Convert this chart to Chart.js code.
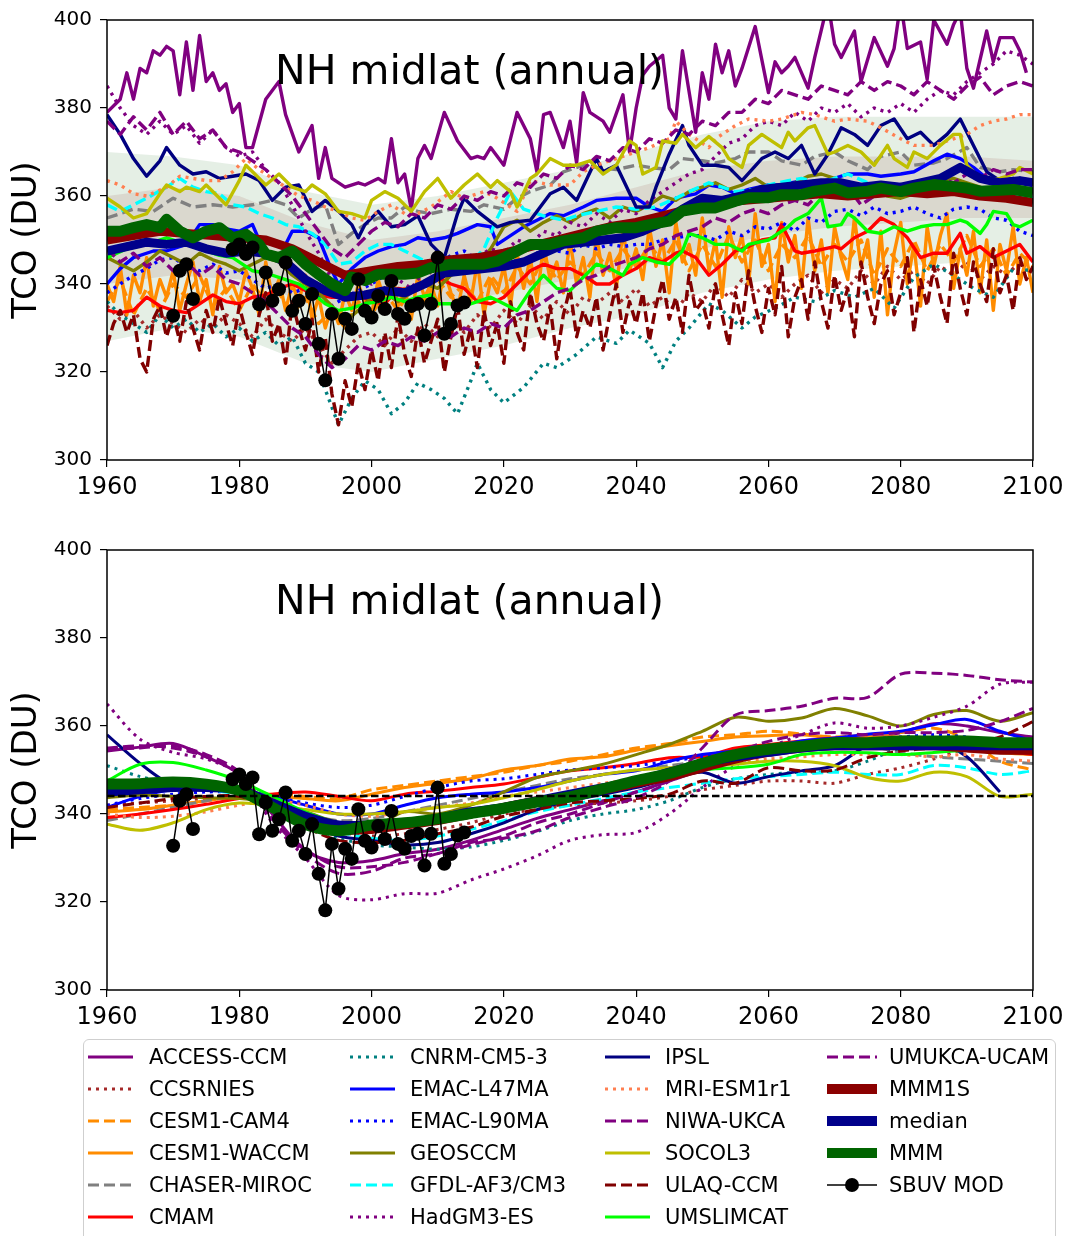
<!DOCTYPE html>
<html><head>
<meta charset="UTF-8">
<title>NH midlat (annual) - TCO</title>
<script src="https://cdn.jsdelivr.net/npm/chart.js@4.4.0/dist/chart.umd.min.js"></script>
<style>
  body, html { margin: 0; padding: 0; background: #fff; }
  #wrap { position: relative; width: 1071px; height: 1236px; overflow: hidden; font-family: 'DejaVu Sans', sans-serif; }
  canvas { position: absolute; left: 0; display: block; }
  .ptitle { position: absolute; left: 275px; font-size: 41px; line-height: 1; white-space: nowrap; color: #000; }
  #legendBox { position: absolute; left: 83px; top: 1039px; width: 973px; height: 230px; border: 1px solid #cfcfcf; border-radius: 6px; box-sizing: border-box; }
  .item { position: absolute; height: 32px; display: flex; align-items: center; font-size: 21px; color: #000; white-space: nowrap; }
  .item svg { flex: none; }
</style>
</head>
<body>
<div id="wrap">
  <canvas id="topChart" width="1071" height="510" style="top:0"></canvas>
  <div class="ptitle" style="top:50px">NH midlat (annual)</div>
  <canvas id="botChart" width="1071" height="510" style="top:530px"></canvas>
  <div class="ptitle" style="top:580px">NH midlat (annual)</div>
  <div id="legendBox"></div>
  <div id="legend"></div>
</div>
<script>
// ---- names & styles ----
const modelNames = ['ACCESS-CCM','CCSRNIES','CESM1-CAM4','CESM1-WACCM','CHASER-MIROC','CMAM',
  'CNRM-CM5-3','EMAC-L47MA','EMAC-L90MA','GEOSCCM','GFDL-AF3/CM3','HadGM3-ES',
  'IPSL','MRI-ESM1r1','NIWA-UKCA','SOCOL3','ULAQ-CCM','UMSLIMCAT','UMUKCA-UCAM'];
const modelColors = ['#800080','#a52a2a','#ff8c00','#ff8c00','#808080','#ff0000',
  '#008080','#0000ff','#0000ff','#808000','#00ffff','#800080',
  '#000080','#ff7f50','#800080','#bfbf00','#800000','#00ff00','#800080'];
const modelLines = ['solid','dotted','dashed','solid','dashed','solid',
  'dotted','solid','dotted','solid','dashed','dotted',
  'solid','dotted','dashed','solid','dashed','solid','dashed'];

// ---- top panel: raw annual TCO (DU), [year, value] ----
const yearsAnnual = Array.from({length: 141}, (_, i) => 1960 + i);

const accessT = [[1960,379],[1962,382],[1963,388],[1964,382],[1965,389],[1966,388],[1967,393],[1968,392],[1969,394],[1970,393],[1971,383],[1972,395],[1973,384],[1974,396.5],[1975,386],[1976,388],[1977,384],[1978,385.5],[1979,379],[1980,381],[1981,371],[1982,371],[1984,382],[1986,386],[1987,378.5],[1989,370],[1991,376],[1992,364],[1993,371],[1994,364],[1996,362],[1998,363],[1999,362.5],[2001,364],[2002,363],[2003,373],[2004,363],[2005,365],[2006,357],[2007,368.5],[2008,371.5],[2009,368.5],[2011,379],[2013,372.5],[2015,368.5],[2016,369],[2017,368.5],[2018,371],[2020,367],[2022,379],[2024,373],[2025,365.5],[2026,378.5],[2027,379],[2029,371],[2030,377],[2031,367.5],[2032,383.5],[2033,379],[2035,377],[2036,374.5],[2038,383],[2039,370],[2040,380],[2041,387.5],[2042,389.5],[2044,392],[2045,380],[2046,377.5],[2047,393],[2049,374.5],[2050,388],[2051,382],[2052,394.5],[2053,388],[2054,393],[2055,385],[2056,389],[2058,398.5],[2060,383.5],[2061,390.5],[2062,388],[2063,389.5],[2064,391.5],[2066,384.5],[2067,391.5],[2069,404],[2070,394.5],[2071,391.5],[2073,397.5],[2074,386],[2076,396],[2078,389.5],[2079,393.5],[2080,404],[2081,393.5],[2083,395],[2084,386.5],[2085,400],[2087,394.5],[2088,399],[2089,402],[2090,389],[2091,384.5],[2093,397.5],[2094,390.5],[2095,396],[2097,396],[2098,393],[2099,388]];
const ccsrT = [[1960,335],[1962,332],[1964,334],[1966,330],[1968,333],[1970,331],[1972,329],[1974,332],[1976,330],[1978,333],[1980,331],[1982,328],[1984,332],[1986,329],[1988,327],[1990,330],[1992,326],[1994,322],[1996,325],[1998,328],[2000,329],[2002,326],[2004,330],[2006,327],[2008,331],[2010,328],[2012,332],[2014,329],[2016,333],[2018,330],[2020,334],[2022,331],[2024,335],[2026,332],[2028,336],[2030,333],[2032,337],[2034,335.5],[2036,338],[2038,336],[2040,339],[2042,335],[2044,337],[2046,334],[2048,338],[2050,336],[2052,340],[2054,337],[2056,341],[2058,338],[2060,340],[2062,337],[2064,340],[2066,342],[2068,338],[2070,341],[2072,339],[2074,343],[2076,340],[2078,344],[2080,341],[2082,343],[2084,340],[2086,344],[2088,342],[2090,345],[2092,341],[2094,344],[2096,342],[2098,345],[2100,343]];
const cam4T = [[1960,336],[1962,341],[1964,333],[1966,339],[1968,334],[1970,340],[1972,337],[1974,342],[1976,335],[1978,339],[1980,334],[1982,340],[1984,336],[1986,338],[1988,333],[1990,337],[1992,331],[1994,334],[1996,330],[1998,336],[2000,333],[2002,338],[2004,334],[2006,339],[2008,336],[2010,341],[2012,337],[2014,340],[2016,336],[2018,342],[2020,338],[2022,344],[2024,340],[2026,346],[2028,341],[2030,345],[2032,342],[2034,347],[2036,343],[2038,348],[2040,344],[2042,349],[2044,345],[2046,350],[2048,343],[2050,349],[2052,344],[2054,351],[2056,345],[2058,350],[2060,343],[2062,349],[2064,346],[2066,351],[2068,344],[2070,349],[2072,345],[2074,350],[2076,342],[2078,348],[2080,344],[2082,350],[2084,343],[2086,349],[2088,345],[2090,351],[2092,344],[2094,348],[2096,342],[2098,347],[2100,344]];
const waccmT = [
  340,336,344,333,342,338,346,335,341,337,
  343,334,340,345,336,341,333,344,338,340,
  336,343,339,333,345,337,341,334,340,336,
  342,332,337,330,335,331,338,334,340,336,
  333,341,336,344,335,339,332,342,337,340,
  335,343,338,334,342,336,345,333,341,338,
  344,335,347,339,346,336,349,341,345,338,
  350,340,346,337,351,342,347,339,352,343,
  348,341,353,344,350,338,354,345,349,342,
  355,343,350,337,353,346,351,340,356,344,
  349,336,354,345,351,339,355,343,350,338,
  353,346,341,355,344,350,337,352,333,347,
  354,340,349,335,353,344,351,356,339,348,
  342,352,338,350,334,349,343,353,340,346,
  338];
const chaserT = [[1960,355],[1964,357],[1967,356.5],[1970,359.5],[1973,357.5],[1976,358],[1979,357.5],[1982,358],[1985,359],[1987,358],[1989,355],[1991,357],[1993,358],[1995,349],[1997,351.5],[1999,353.5],[2001,355],[2003,355],[2005,357.5],[2007,356.5],[2009,356],[2012,357],[2015,356.5],[2017,358],[2020,357],[2022,359.5],[2024,361],[2027,362.5],[2029,365.5],[2032,367],[2034,366.5],[2037,366],[2040,367],[2042,366.5],[2045,366],[2047,368.5],[2050,368],[2052,367.5],[2055,368.5],[2057,370],[2060,370],[2062,368],[2065,367],[2067,369],[2070,370],[2072,368],[2075,366],[2077,369],[2080,370],[2082,367],[2085,367.5],[2087,368.5],[2090,371],[2092,366.5],[2095,365.5],[2097,366],[2100,365.5]];
const cmamT = [[1960,334],[1962,333.5],[1964,334],[1966,337],[1968,335],[1970,334],[1972,333.5],[1974,335.5],[1976,337.5],[1978,336],[1980,335.5],[1982,337],[1984,337.5],[1986,339],[1988,340],[1990,338.5],[1992,337.5],[1994,337],[1996,337],[1998,337.5],[2000,336],[2002,335.5],[2004,339],[2006,338.5],[2008,340],[2010,341.5],[2012,340],[2014,339],[2016,336],[2018,335.5],[2020,337],[2022,340],[2024,343],[2026,344.5],[2028,343.5],[2030,343.5],[2032,342],[2034,340],[2036,340],[2038,342],[2040,343.5],[2042,346],[2044,345],[2046,347],[2047,347.5],[2049,346],[2051,342],[2053,344.5],[2055,347.5],[2057,348.5],[2059,350],[2061,350.5],[2062,353.5],[2064,347.5],[2065,347],[2067,347.5],[2070,348.5],[2071,348],[2073,350.5],[2075,352],[2077,355],[2079,353.5],[2081,350.5],[2083,346],[2085,347],[2087,347],[2089,351.5],[2090,347],[2092,348.5],[2094,346],[2096,347.5],[2098,349],[2100,345]];
const cnrmT = [[1960,336],[1962,333],[1964,331],[1966,329],[1968,333],[1970,330],[1972,332],[1974,329],[1976,331],[1978,328],[1980,330],[1982,327],[1984,329],[1986,326],[1988,328],[1990,322],[1992,320],[1994,312],[1995,308],[1997,314],[1999,318],[2001,316],[2003,310.5],[2005,313],[2007,317.5],[2009,316],[2011,314],[2013,310.5],[2015,318],[2016,322],[2018,316],[2020,313],[2023,316.5],[2026,322],[2028,321],[2031,324],[2034,328],[2037,326.5],[2039,329.5],[2042,326.5],[2044,321],[2046,327],[2048,330],[2051,335.5],[2053,334],[2056,330],[2058,332.5],[2061,334.5],[2064,337],[2067,336],[2070,338.5],[2073,337],[2076,339],[2079,334.5],[2082,341.5],[2085,344.5],[2088,342],[2091,339],[2094,337],[2097,343.5],[2100,343]];
const emac47T = [[1960,340],[1962,343.5],[1964,346],[1967,347.5],[1969,347.5],[1972,349],[1974,353.5],[1976,353.5],[1978,352.5],[1980,352],[1982,353.5],[1983,350],[1985,350],[1987,349],[1988,352],[1990,352],[1992,350.5],[1994,343],[1995,340],[1997,343.5],[1999,346],[2001,347.5],[2003,348.5],[2005,349],[2007,350.5],[2009,350],[2011,350.5],[2013,351.5],[2016,353.5],[2018,353],[2019,349],[2021,351],[2023,353],[2025,354.5],[2027,356],[2029,355.5],[2032,357.5],[2034,359],[2037,359.5],[2040,359.5],[2042,357.5],[2044,356.5],[2046,359.5],[2049,360.5],[2051,362.5],[2053,362],[2055,360.5],[2057,361.5],[2060,362.5],[2062,362.5],[2065,363.5],[2067,363],[2070,364],[2072,365],[2075,365],[2077,364.5],[2080,365],[2082,365.5],[2085,368],[2087,369.5],[2089,368.5],[2091,366.5],[2093,364],[2096,363.5],[2098,364],[2100,363.5]];
const emac90T = [[1960,338],[1962,340],[1964,342],[1966,343.5],[1968,345.5],[1970,346],[1972,344],[1974,343],[1976,344.5],[1978,342.5],[1980,343],[1982,341],[1984,339],[1986,340],[1988,338],[1990,339],[1992,337],[1994,335],[1996,337],[1998,338.5],[2000,340],[2002,342],[2004,341],[2006,343],[2008,345.5],[2010,344.5],[2012,346.5],[2014,347.5],[2016,345.5],[2018,347],[2020,346],[2022,345],[2024,346],[2026,348],[2028,347.5],[2030,347],[2032,349],[2034,348],[2036,349],[2038,348.5],[2040,349],[2042,349],[2044,350],[2046,350.5],[2048,351],[2050,351],[2052,350],[2054,352],[2056,351],[2058,353],[2060,352.5],[2062,354],[2064,352],[2066,355],[2068,354],[2070,356.5],[2072,357],[2074,355.5],[2076,357.5],[2078,356],[2080,356.5],[2082,357.5],[2084,356],[2086,355],[2088,357],[2090,357.5],[2092,357],[2094,355],[2096,354.5],[2098,352],[2100,351]];
const geosT = [[1960,346],[1962,344.5],[1964,343],[1966,345],[1968,347.5],[1970,346],[1972,344.5],[1974,347],[1976,345.5],[1978,344.5],[1980,343],[1982,344.5],[1984,346],[1986,345],[1988,342],[1990,340],[1992,338],[1994,335],[1996,331.5],[1998,334],[2000,337],[2002,338],[2004,336],[2006,338],[2008,340],[2010,339],[2012,342],[2014,343],[2016,344.5],[2018,348],[2020,353],[2022,354.5],[2024,352],[2026,354],[2028,355.5],[2030,354],[2032,356],[2034,357],[2036,355],[2038,357.5],[2040,356.5],[2042,358],[2044,360],[2046,359],[2048,361],[2050,362],[2052,363],[2054,361.5],[2056,362.5],[2058,364],[2060,362],[2062,361],[2064,363],[2066,364.5],[2068,365],[2070,364],[2072,363],[2074,361],[2076,362],[2078,360],[2080,359.5],[2082,360.5],[2084,362],[2086,363.5],[2088,364],[2090,363],[2092,362],[2094,361],[2096,362],[2098,363],[2100,363.5]];
const gfdlT = [[1960,358],[1962,356.5],[1964,358],[1966,359.5],[1969,362],[1971,364],[1973,362],[1975,361],[1977,360.5],[1979,358],[1981,357.5],[1983,356],[1985,355],[1987,353.5],[1989,353],[1991,351.5],[1993,349],[1995,344.5],[1997,345],[1999,347.5],[2001,349],[2003,349],[2005,347.5],[2007,346],[2009,344.5],[2012,345],[2015,345],[2017,348],[2019,355],[2021,361],[2023,357],[2026,355.5],[2029,354.5],[2031,355.5],[2034,356.5],[2037,357.5],[2040,357],[2043,357.5],[2046,359.5],[2048,361],[2051,363],[2053,362],[2055,361],[2058,361.5],[2060,362.5],[2063,363.5],[2065,364],[2068,363],[2070,364],[2072,365],[2075,363],[2078,362],[2080,362.5],[2083,362],[2086,361.5],[2089,361],[2092,360.5],[2095,360],[2098,360.5],[2100,359.5]];
const hadT = [[1960,385],[1962,380],[1964,376],[1966,374],[1968,377],[1970,374],[1972,376],[1974,372],[1976,375],[1978,371],[1980,369],[1982,370],[1984,366],[1986,363],[1988,358],[1990,352],[1992,347],[1994,341],[1996,339],[1998,342],[2000,340],[2002,343],[2004,341],[2006,339],[2008,343],[2010,342],[2012,345],[2014,343],[2016,346],[2018,348],[2020,347],[2022,350],[2024,349],[2026,352],[2028,351],[2030,354],[2032,353],[2034,356],[2036,354],[2038,357],[2040,356],[2042,359],[2044,361],[2046,363],[2048,365],[2050,366],[2052,369],[2054,372],[2056,373],[2058,376],[2060,377],[2062,376],[2064,379],[2066,377],[2068,380],[2070,379],[2072,381],[2074,378],[2076,380],[2078,379],[2080,381],[2082,379],[2084,382],[2086,384],[2088,383],[2090,386],[2092,388],[2094,390],[2096,393],[2098,392],[2100,390]];
const ipslT = [[1960,378.5],[1962,374],[1964,368.5],[1966,364.5],[1968,368],[1969,371],[1971,367],[1973,365],[1975,365.5],[1977,364],[1979,364.5],[1981,365],[1983,363.5],[1985,359],[1987,362],[1989,362.5],[1991,356.5],[1993,359],[1995,356.5],[1997,353.5],[1998,350.5],[1999,353.5],[2001,356.5],[2003,353],[2005,353.5],[2007,355.5],[2009,349],[2011,346],[2013,356],[2014,359.5],[2016,356.5],[2019,353],[2021,354],[2024,354.5],[2027,360.5],[2029,362],[2031,359],[2034,368.5],[2035,365.5],[2037,367],[2040,357.5],[2042,357.5],[2043,362],[2045,369.5],[2047,376],[2048,371.5],[2050,367],[2052,367],[2054,366.5],[2056,363.5],[2059,368.5],[2061,370],[2063,368.5],[2065,371.5],[2067,365],[2069,369.5],[2071,375.5],[2073,374],[2075,371.5],[2077,376],[2079,377.5],[2081,373],[2083,374.5],[2085,371.5],[2087,374],[2089,377.5],[2091,371.5],[2093,365.5],[2095,363.5],[2097,364],[2100,362.5]];
const mriT = [[1960,363.5],[1962,362.5],[1964,360.5],[1966,360],[1969,362],[1971,364.5],[1973,364],[1975,363.5],[1977,363.5],[1979,365.5],[1981,368.5],[1983,366],[1985,364],[1987,362],[1989,360],[1991,359],[1993,357.5],[1995,356.5],[1997,355],[1999,354.5],[2001,356.5],[2003,358],[2005,356],[2007,356],[2009,357.5],[2012,361],[2014,359.5],[2017,361],[2019,359.5],[2022,356.5],[2024,363.5],[2027,362.5],[2030,362.5],[2032,365.5],[2034,367],[2037,368.5],[2040,370],[2042,371],[2045,373],[2046,377],[2048,374],[2051,371],[2052,373],[2055,376],[2057,377.5],[2060,377],[2062,377.5],[2065,379],[2067,378.5],[2070,377],[2072,377.5],[2075,377],[2077,375.5],[2080,373],[2082,371.5],[2085,371.5],[2088,373],[2090,374],[2092,376],[2094,377],[2096,377.5],[2098,378.5],[2100,378.5]];
const niwaT = [[1960,377],[1962,374],[1964,378],[1966,375],[1968,379],[1970,374],[1972,377],[1974,373],[1976,375],[1978,371],[1980,370],[1982,368],[1984,366],[1986,363],[1988,360],[1990,356],[1992,352],[1994,348],[1996,346],[1998,349],[2000,352],[2002,354],[2004,353],[2006,356],[2008,355],[2010,358],[2012,357],[2014,360],[2016,359],[2018,361],[2020,360],[2022,363],[2024,362],[2026,365],[2028,364],[2030,367],[2032,366],[2034,369],[2036,368],[2038,371],[2040,370],[2042,373],[2044,372],[2046,375],[2048,374],[2050,377],[2052,376],[2054,379],[2056,379],[2058,382],[2060,381],[2062,384],[2064,383],[2066,382],[2068,385],[2070,384],[2072,383],[2074,386],[2076,384],[2078,386],[2080,385],[2082,383],[2084,386],[2086,384],[2088,382],[2090,385],[2092,387],[2094,383],[2096,385],[2098,386],[2100,385]];
const socolT = [[1960,359.5],[1962,357.5],[1964,355],[1966,356],[1968,360.5],[1969,362.5],[1971,361],[1972,362],[1974,361],[1975,362.5],[1978,358],[1980,363.5],[1981,367],[1982,365.5],[1984,362.5],[1986,365],[1988,362],[1990,361],[1991,362.5],[1993,360.5],[1995,356.5],[1997,356],[1999,355],[2000,359],[2002,361],[2004,359.5],[2006,356.5],[2008,361],[2010,364],[2012,359.5],[2014,362.5],[2016,365],[2018,362],[2019,363.5],[2021,361],[2022,357.5],[2024,364],[2025,365],[2027,368.5],[2029,367],[2031,367],[2033,368],[2035,365],[2037,367],[2039,372.5],[2040,371.5],[2041,365],[2043,366.5],[2044,372.5],[2046,372],[2047,374],[2049,371],[2051,373.5],[2053,371],[2054,368.5],[2056,366.5],[2057,371.5],[2059,374],[2060,373],[2062,371],[2063,374.5],[2064,372.5],[2066,375.5],[2067,376],[2069,369.5],[2070,370],[2072,371.5],[2074,370],[2076,367],[2078,371.5],[2079,368.5],[2081,366.5],[2082,370],[2084,368.5],[2086,371.5],[2088,374],[2089,374],[2090,367],[2092,364],[2093,363.5],[2095,364],[2097,365],[2098,366.5],[2100,365]];
const ulaqT = [
  326,331,334,329,333,323,320,332,335,328,
  333,327,336,330,325,334,329,337,331,326,
  335,329,324,333,338,327,331,322,336,330,
  325,332,320,328,315,308,318,312,322,316,
  325,318,329,321,333,324,319,330,322,327,
  332,320,328,335,324,330,321,334,326,331,
  322,336,329,325,338,331,327,335,323,333,
  339,328,334,330,337,325,333,340,329,336,
  331,338,327,335,341,332,337,329,342,334,
  336,330,340,333,326,338,331,343,335,329,
  339,333,344,328,337,341,332,345,336,330,
  342,334,339,328,345,337,331,340,343,333,
  338,346,329,341,335,344,337,331,347,339,
  333,345,340,336,348,338,342,334,346,341,
  344];
const umslimT = [[1960,346],[1963,348],[1966,349],[1969,350.5],[1972,349],[1975,347.5],[1977,346.5],[1979,346],[1982,343],[1984,342.5],[1987,341],[1989,340],[1991,338],[1993,335.5],[1995,334],[1997,334.5],[1999,335.5],[2001,336],[2003,337],[2005,336],[2007,337],[2009,337.5],[2010,335.5],[2012,335.5],[2014,335],[2016,336],[2018,337],[2020,335.5],[2022,334],[2024,338.5],[2026,342],[2028,339],[2030,338.5],[2032,341.5],[2034,344.5],[2036,343.5],[2038,342],[2039,344.5],[2041,346],[2043,345],[2045,344.5],[2047,347.5],[2048,351.5],[2050,350.5],[2052,349],[2054,349],[2056,347.5],[2057,349],[2060,350],[2062,352],[2063,353],[2064,354.5],[2066,356],[2068,359.5],[2069,353],[2071,353.5],[2072,356],[2073,355],[2075,352],[2077,351.5],[2079,353],[2081,352],[2083,353],[2085,353.5],[2087,353.5],[2089,354.5],[2090,354],[2092,351.5],[2093,353.5],[2094,356.5],[2096,356],[2097,353.5],[2098,353],[2100,354.5]];
const umukcaT = [[1960,348],[1962,345],[1964,347],[1966,344],[1968,346],[1970,343],[1972,345],[1974,342],[1976,344],[1978,341],[1980,340],[1982,338],[1984,336],[1986,333],[1988,330],[1990,328],[1992,324],[1994,321],[1996,323],[1998,326],[2000,325],[2002,327],[2004,326],[2006,328],[2008,327],[2010,329],[2012,328],[2014,330],[2016,329],[2018,331],[2020,330],[2022,333],[2024,334],[2026,336],[2028,338],[2030,339],[2032,341],[2034,342],[2036,344],[2038,345],[2040,346],[2042,348],[2044,349],[2046,351],[2048,352],[2050,353],[2052,355],[2054,354],[2056,356],[2058,357],[2060,356],[2062,358],[2064,359],[2066,358],[2068,361],[2070,360],[2072,362],[2074,358],[2076,360],[2078,362],[2080,361],[2082,363],[2084,362],[2086,364],[2088,363],[2090,365],[2092,364],[2094,366],[2096,365],[2098,366],[2100,366]];
const mmm1sT = [[1960,350],[1964,351],[1968,352],[1972,351.5],[1976,351],[1980,350.5],[1984,350],[1988,348],[1992,345],[1996,342],[2000,343],[2004,344],[2008,344.5],[2012,345.5],[2016,346],[2020,347],[2024,348.5],[2028,350],[2032,351.5],[2036,353],[2040,354],[2044,355.5],[2048,357],[2052,358],[2056,359],[2060,359.5],[2064,360],[2068,360.5],[2072,360],[2076,360.5],[2080,361],[2084,360.5],[2088,361],[2092,360],[2096,359.5],[2100,358.5]];
const medianT = [[1960,347.5],[1963,348.5],[1966,349.5],[1969,349],[1972,349.5],[1975,348],[1978,347],[1981,347.5],[1984,347],[1987,345],[1990,341],[1993,338.5],[1996,337],[1999,337.5],[2002,338.5],[2005,338],[2008,340],[2011,342.5],[2014,343],[2017,343.5],[2020,344],[2023,345],[2026,347],[2029,349],[2032,349.5],[2035,350],[2038,350.5],[2041,352],[2044,354],[2047,357],[2050,359.5],[2053,359],[2056,360],[2059,361.5],[2062,362],[2065,362.5],[2068,363],[2071,363],[2074,362],[2077,362.5],[2080,362],[2083,363],[2086,364],[2089,366.5],[2092,364],[2095,363],[2098,363.5],[2100,363]];
const mmmT = [[1960,352],[1962,352],[1964,352.8],[1966,353.5],[1968,352.8],[1969,354.7],[1971,352],[1973,350.5],[1975,352],[1977,352.8],[1979,350.5],[1981,351.3],[1983,349],[1984,346.8],[1986,346],[1988,347.5],[1990,344.5],[1992,342.2],[1994,340],[1996,338.5],[1997,341.6],[1999,340.8],[2001,342.2],[2003,342.2],[2005,342.2],[2007,342.5],[2009,343.7],[2012,344.5],[2014,344.5],[2017,344.5],[2019,345.2],[2022,347.5],[2024,349],[2027,349],[2029,349.8],[2032,350.5],[2034,352],[2037,352.8],[2040,352.8],[2042,353.5],[2045,354.3],[2047,356.6],[2050,357.3],[2052,357.3],[2055,358.8],[2057,359.6],[2060,359.6],[2062,360.3],[2065,360.3],[2067,361.1],[2070,361.8],[2072,360.7],[2075,361.1],[2077,361.8],[2080,361],[2082,361.8],[2085,362.6],[2087,362.3],[2090,361.8],[2092,361.1],[2095,361.3],[2097,361.5],[2100,360.7]];

// model spread shading (top panel)
const bandYears = [1960,1970,1980,1990,2000,2010,2020,2030,2040,2050,2060,2070,2080,2090,2100];
const outerLo = [327,330,328,322,320,323,326,330,333,338,341,343,344,345,345];
const outerHi = [370,369,367,361,358,360,363,366,370,374,377,378,378,378,378];
const innerLo = [340,342,341,336,333,335,338,341,344,348,351,353,354,355,355];
const innerHi = [360,362,360,354,350,352,355,358,362,366,368,369,369,369,368];

// ---- bottom panel: adjusted, smoothed TCO (DU) ----
const yearsB = [1960,1965,1970,1975,1980,1985,1990,1995,2000,2005,2010,2015,2020,2025,2030,2035,2040,2045,2050,2055,2060,2065,2070,2075,2080,2085,2090,2095,2100];
const accessB = [354.3,355.2,356,353,349,340,331.7,329,329.4,331,332,334,336.5,339,341,343,345,347.5,350,352,353.5,355,356,357,358.5,360.5,360,358.5,357.5];
const ccsrB = [342,342.5,343,343.5,344,342,339,336,335,335.5,336.5,338,340,341,342,342.5,343,344,345.5,346.5,347.5,347.5,347,349,350.5,352.5,355,357,355];
const cam4B = [341,341.5,342,343,344.5,344.5,344,343.5,345.5,346.5,347.5,348.5,349.5,351,352,353.5,355,356,357.5,358,358.8,358.2,357.5,358,358.5,359.5,357,352,350];
const waccmB = [340.5,341,342,343,344,344,343.5,343,344.5,346,347,348,350,351,352.5,353,354.5,355.5,356.5,357.5,357.8,358,357.2,357.5,357.5,357,355.5,354,353.5];
const chaserB = [338.5,340,341.5,343,344,342.5,340,338.5,339,340.5,342,343.5,345,346.5,348,349,350,351,352,353,354,355,355.5,355.5,354,353,352.5,352,351.5];
const cmamB = [339.2,340,341,342.2,343.5,344.5,345,344,343,344.5,345.2,346,346.8,348.3,349.8,350.5,351.5,352.8,353,355,355.8,356.6,357.3,357,356.6,356,355.1,354.3,353.5];
const cnrmB = [351,348.5,347,346,345,342,338,334.5,333,332.5,332,332.5,334,336,338.5,340,341,343,346,348,349,349.5,349.8,352,355,355.5,356,355.5,355];
const emac47B = [341.5,344,345.5,345.8,345.5,344,342,340,340,342,343.7,344.5,345,346,347.5,349,349.8,352,353.5,354.3,355.1,356.6,357.3,358.1,358.8,360.3,361.5,358.8,356.6];
const emac90B = [342,343.5,344.5,345,345,344,342.5,341.5,342,344,346,347.5,348,349,350,350.5,351,352,353,354,355,356,356.5,357,357.5,358,357.5,356,355];
const geosB = [343.7,344.3,344,343.7,343.5,342.5,340.5,338,337,340.5,340,342,345,348.3,349.8,351.3,353.5,355.8,358.8,362,361.1,361.8,364,362.3,360,362.6,363.5,361.1,363];
const gfdlB = [347,346.5,346,345.5,344.5,342.5,339,336,334.5,334,335,336.5,338.5,340.5,342,343.5,345,346,347,348,348.5,349,349.5,349,349,351,350.5,349,349.8];
const hadB = [365,357,354,352.5,349,338,330,321.5,320.5,321.9,322,325,327.5,330.5,334,335.3,335.8,340,346,351,355,358,360.7,359.5,360,362,364.5,369.5,370];
const ipslB = [358,351.5,346.5,346,345,342,338,335,334,333,333.5,335.5,338,341,343,344.5,346,348,349.5,347,348.5,349.8,351,355.5,356,356.5,353,345,null];
const mriB = [340,339.2,339.5,340.5,342,343,342,340,339.5,340.5,341.5,342.5,344,345,346,347,348,349.5,350.5,351.5,352.5,353,353.5,353.5,353.5,353,353.5,352.5,352];
const niwaB = [355,355.5,355,353,349,339,332,328,328,329,331,333,335,338,340,342.5,345,347.5,351,354,356.5,358,358.5,358,358.5,358.5,359,361,364];
const socolB = [337.7,336.3,338,341,342.5,342,341,340,340,340.5,341.5,342.2,343.7,345.5,347.5,349,350,350.5,351,351.3,352,352,351,348.3,347.5,349.5,348.5,344,344.5];
const ulaqB = [341.5,342.5,343.5,344,344,341,337,334,333.5,334,335.5,337,339.5,341,342.5,343,343.5,344.5,347.5,347,350.5,349.8,350,352.8,354.3,355,355.8,357.5,361];
const umslimB = [347.5,351.3,351.7,350,347.5,344,340.5,338,337.5,338,338.5,339.5,341,342.5,344,345.5,347,348.5,350,350.5,351.3,353.5,354,353.9,353.5,354,354.5,null,null];
const umukcaB = [354.7,355,355.5,353.5,349.5,339,331,326.5,327,330,331,333.5,334.5,336.2,339.2,341.5,343.7,347.5,355,362.5,363.5,364.5,366.3,366.5,371.8,372,371.5,370.5,370];
const mmm1sB = [345.5,346.5,347,346.5,345.5,342.5,339,336.5,336.5,337.5,338.5,340,341.5,343,344,345.5,347,348.5,350.5,352.5,354,355,355.5,355.5,355.5,355.5,355,354.5,354.5];
const medianB = [345,345.5,346,346,345.5,342.5,339.5,337.5,337.5,338,339,340.5,341.5,343,344.5,346,347.5,349.5,351.5,353,354,355,355.5,355.5,355.5,355.5,355.5,355.5,355.5];
const mmmB = [346.8,346.9,347.3,346.8,345.3,341.5,337.6,336.2,337.5,338,338.9,340.1,341.3,342.7,343.9,345.7,347.6,349.2,351.5,353.5,354.7,355.4,356.2,356.2,356.6,356.6,356.6,356.2,356.2];
const refYears = [1960, 2100];
const refLevel = [344.1, 344.1];

// ---- observations (SBUV MOD) ----
const sbuvYears = [1970,1971,1972,1973,1974,1975,1976,1977,1978,1979,1980,1981,1982,1983,1984,1985,1986,1987,1988,1989,1990,1991,1992,1993,1994,1995,1996,1997,1998,1999,2000,2001,2002,2003,2004,2005,2006,2007,2008,2009,2010,2011,2012,2013,2014];
const sbuvTCO = [332.8,343,344.5,336.6,null,null,null,null,null,347.9,349,346.8,348.3,335.4,342.6,336.2,338.8,344.9,333.9,336.2,330.9,337.7,326.4,318.1,333.2,323,332.1,329.8,341.1,333.9,332.4,337.3,334.3,340.7,333.2,332.1,335,335.5,328.3,335.5,346,328.7,330.9,335.1,335.8];

// ---- helpers ----
const FONT = 'DejaVu Sans';
const dashFor = { solid: [], dotted: [3, 5], dashed: [11, 5] };
const pairs = arr => arr.map(p => ({ x: p[0], y: p[1] }));
const onGrid = (xs, ys) => xs.map((x, i) => ({ x: x, y: ys[i] }));

function lineSet(label, points, color, style, width, order, tension) {
  return {
    label, data: points, borderColor: color, backgroundColor: color,
    borderWidth: width, borderDash: dashFor[style], pointRadius: 0,
    fill: false, tension: tension, order: order, spanGaps: false,
    borderJoinStyle: 'round', borderCapStyle: 'butt'
  };
}
function bandSets(lo, hi, color) {
  return [
    { data: onGrid(bandYears, lo), borderColor: 'rgba(0,0,0,0)', borderWidth: 1, pointRadius: 0, fill: false, order: 300 },
    { data: onGrid(bandYears, hi), borderColor: 'rgba(0,0,0,0)', borderWidth: 1, pointRadius: 0, fill: '-1', backgroundColor: color, order: 300 }
  ];
}
function sbuvSet() {
  return {
    label: 'SBUV MOD', data: onGrid(sbuvYears, sbuvTCO), borderColor: '#000', backgroundColor: '#000',
    borderWidth: 1.5, pointRadius: 7, pointBorderWidth: 0, pointBackgroundColor: '#000',
    fill: false, tension: 0, order: 0, spanGaps: false
  };
}

const framePlugin = {
  id: 'frame',
  afterDraw(chart) {
    const { ctx, chartArea: a } = chart;
    ctx.save();
    ctx.strokeStyle = '#000';
    ctx.lineWidth = 1.5;
    ctx.strokeRect(a.left, a.top, a.right - a.left, a.bottom - a.top);
    ctx.restore();
  }
};

function makeOptions() {
  const tickGrid = { display: true, drawOnChartArea: false, drawTicks: true, tickLength: 7, color: '#000', lineWidth: 1.2 };
  return {
    responsive: false, animation: false, devicePixelRatio: 1,
    layout: { padding: { left: 0, right: 38, top: 18, bottom: 0 } },
    plugins: { legend: { display: false }, tooltip: { enabled: false } },
    scales: {
      x: {
        type: 'linear', min: 1960, max: 2100,
        afterFit(s) { s.height = 50; },
        ticks: { stepSize: 20, color: '#000', padding: 6, maxRotation: 0, font: { family: FONT, size: 24 }, callback: v => String(v) },
        grid: tickGrid, border: { display: false }
      },
      y: {
        min: 300, max: 400,
        afterFit(s) { s.width = 107; },
        ticks: { stepSize: 20, color: '#000', padding: 8, font: { family: FONT, size: 20 } },
        grid: tickGrid, border: { display: false },
        title: { display: true, text: 'TCO (DU)', color: '#000', font: { family: FONT, size: 34 }, padding: { top: 7, bottom: 0 } }
      }
    }
  };
}

const THIN = 3.4;

// ---- top chart ----
const topPoints = [pairs(accessT), pairs(ccsrT), pairs(cam4T), onGrid(yearsAnnual, waccmT), pairs(chaserT), pairs(cmamT),
  pairs(cnrmT), pairs(emac47T), pairs(emac90T), pairs(geosT), pairs(gfdlT), pairs(hadT),
  pairs(ipslT), pairs(mriT), pairs(niwaT), pairs(socolT), onGrid(yearsAnnual, ulaqT), pairs(umslimT), pairs(umukcaT)];

const topSets = []
  .concat(bandSets(outerLo, outerHi, 'rgba(0,100,0,0.1)'))
  .concat(bandSets(innerLo, innerHi, 'rgba(139,0,0,0.1)'));
modelNames.forEach((name, i) => {
  topSets.push(lineSet(name, topPoints[i], modelColors[i], modelLines[i], THIN, 100 - i, 0));
});
topSets.push(lineSet('MMM1S', pairs(mmm1sT), '#8b0000', 'solid', 9, 5, 0));
topSets.push(lineSet('median', pairs(medianT), '#00008b', 'solid', 9, 4, 0));
topSets.push(lineSet('MMM', pairs(mmmT), '#006400', 'solid', 11, 3, 0));
topSets.push(sbuvSet());

new Chart(document.getElementById('topChart'), {
  type: 'line', data: { datasets: topSets }, options: makeOptions(), plugins: [framePlugin]
});

// ---- bottom chart ----
const botValues = [accessB, ccsrB, cam4B, waccmB, chaserB, cmamB, cnrmB, emac47B, emac90B, geosB, gfdlB, hadB,
  ipslB, mriB, niwaB, socolB, ulaqB, umslimB, umukcaB];
const botSets = [];
modelNames.forEach((name, i) => {
  botSets.push(lineSet(name, onGrid(yearsB, botValues[i]), modelColors[i], modelLines[i], 3, 100 - i, 0.3));
});
botSets.push(lineSet('MMM1S', onGrid(yearsB, mmm1sB), '#8b0000', 'solid', 9, 5, 0.3));
botSets.push(lineSet('median', onGrid(yearsB, medianB), '#00008b', 'solid', 9, 4, 0.3));
botSets.push(lineSet('MMM', onGrid(yearsB, mmmB), '#006400', 'solid', 11, 3, 0.3));
const ref = lineSet('ref', onGrid(refYears, refLevel), '#000', 'solid', 2.5, 1, 0);
ref.borderDash = [7.5, 3.5];
botSets.push(ref);
botSets.push(sbuvSet());

new Chart(document.getElementById('botChart'), {
  type: 'line', data: { datasets: botSets }, options: makeOptions(), plugins: [framePlugin]
});

// ---- legend ----
const legendNames = modelNames.concat(['MMM1S', 'median', 'MMM', 'SBUV MOD']);
const legendColors = modelColors.concat(['#8b0000', '#00008b', '#006400', '#000']);
const legendLines = modelLines.concat(['solid', 'solid', 'solid', 'solid']);
const colX = [88, 350, 605, 827];
const textX = [149, 410, 665, 889];
const legendEl = document.getElementById('legend');
legendNames.forEach((name, i) => {
  const col = Math.floor(i / 6), row = i % 6;
  const item = document.createElement('div');
  item.className = 'item';
  item.style.left = colX[col] + 'px';
  item.style.top = (1057 + 32 * row - 16) + 'px';
  const w = textX[col] - colX[col];
  const thick = ['MMM1S', 'median', 'MMM'].includes(name);
  const lineLen = col === 3 ? 50 : 45;
  const sw = thick ? 10 : (name === 'SBUV MOD' ? 1.5 : 3);
  const dash = dashFor[legendLines[i]].join(' ');
  let svg = '<svg width="' + w + '" height="20" xmlns="http://www.w3.org/2000/svg">' +
    '<line x1="0" y1="10" x2="' + lineLen + '" y2="10" stroke="' + legendColors[i] + '" stroke-width="' + sw + '"' +
    (dash ? ' stroke-dasharray="' + dash + '"' : '') + '/>';
  if (name === 'SBUV MOD') svg += '<circle cx="' + (lineLen / 2) + '" cy="10" r="7" fill="#000"/>';
  svg += '</svg>';
  item.innerHTML = svg + '<span>' + name + '</span>';
  legendEl.appendChild(item);
});
</script>
</body></html>
